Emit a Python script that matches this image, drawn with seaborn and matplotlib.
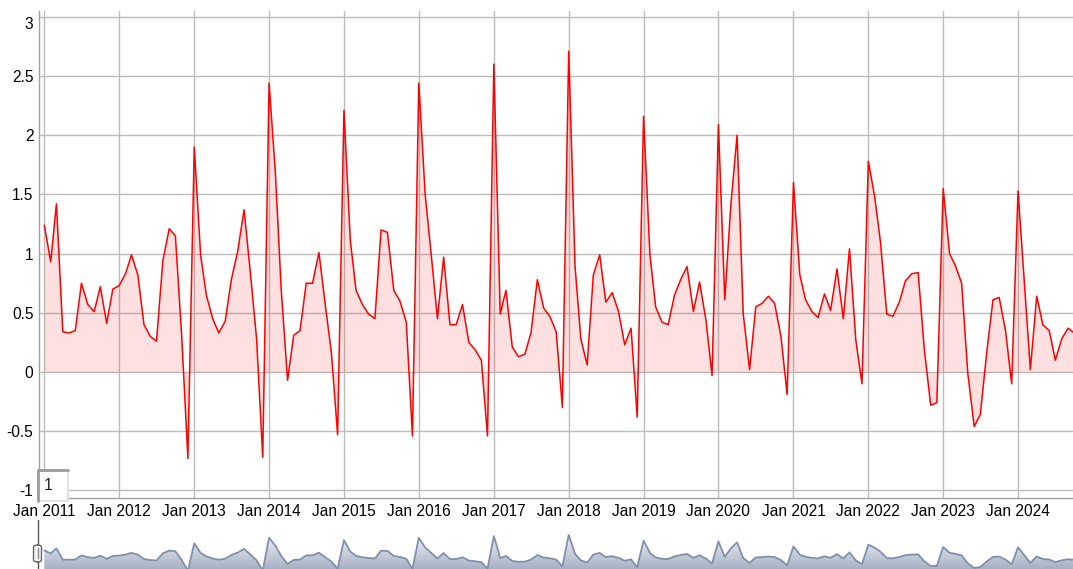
import numpy as np
import pandas as pd
import seaborn as sns
import matplotlib.pyplot as plt
import matplotlib.dates as mdates
from matplotlib.ticker import FuncFormatter, MultipleLocator
from matplotlib.colors import LinearSegmentedColormap
from matplotlib.patches import FancyBboxPatch, Rectangle
from matplotlib.lines import Line2D

# monthly series, Jan 2011 .. Oct 2024
start_month = "2011-01-01"
values = [
    1.24, 0.93, 1.42, 0.34, 0.33, 0.35, 0.75, 0.57, 0.51, 0.72, 0.41, 0.70,   # 2011
    0.73, 0.83, 0.99, 0.82, 0.40, 0.30, 0.26, 0.94, 1.21, 1.15, 0.30, -0.73,  # 2012
    1.90, 0.99, 0.65, 0.45, 0.33, 0.43, 0.78, 1.02, 1.37, 0.85, 0.28, -0.72,  # 2013
    2.44, 1.67, 0.70, -0.07, 0.31, 0.35, 0.75, 0.75, 1.01, 0.58, 0.16, -0.53, # 2014
    2.21, 1.11, 0.69, 0.57, 0.49, 0.45, 1.20, 1.18, 0.69, 0.60, 0.42, -0.54,  # 2015
    2.44, 1.50, 1.00, 0.45, 0.97, 0.40, 0.40, 0.57, 0.25, 0.19, 0.10, -0.54,  # 2016
    2.60, 0.49, 0.69, 0.21, 0.13, 0.15, 0.33, 0.78, 0.54, 0.47, 0.34, -0.30,  # 2017
    2.71, 0.89, 0.28, 0.06, 0.82, 0.99, 0.59, 0.67, 0.51, 0.23, 0.37, -0.38,  # 2018
    2.16, 0.99, 0.55, 0.42, 0.40, 0.65, 0.78, 0.89, 0.51, 0.76, 0.44, -0.03,  # 2019
    2.09, 0.61, 1.40, 2.00, 0.49, 0.02, 0.55, 0.58, 0.64, 0.58, 0.30, -0.19,  # 2020
    1.60, 0.82, 0.61, 0.51, 0.46, 0.66, 0.52, 0.87, 0.45, 1.04, 0.27, -0.10,  # 2021
    1.78, 1.48, 1.10, 0.49, 0.47, 0.59, 0.77, 0.83, 0.84, 0.19, -0.28, -0.26, # 2022
    1.55, 1.00, 0.90, 0.75, -0.01, -0.46, -0.36, 0.16, 0.61, 0.63, 0.35, -0.10, # 2023
    1.53, 0.75, 0.02, 0.64, 0.40, 0.35, 0.10, 0.28, 0.37, 0.33,               # 2024
]
roll_period = "1"

months = pd.date_range(start_month, periods=len(values), freq="MS")
df = pd.DataFrame({"month": months, "value": values})

sns.set_style("white")
plt.rcParams["font.family"] = ["Liberation Sans", "DejaVu Sans"]
plt.rcParams["axes.unicode_minus"] = False

W, H = 1073, 569
fig = plt.figure(figsize=(W / 100, H / 100), dpi=100)
fig.patch.set_facecolor("white")

x0, x1 = pd.Timestamp("2010-12-06"), pd.Timestamp("2024-09-25")

# main chart
ax = fig.add_axes([39 / W, (H - 498) / H, (W - 39) / W, 487 / H])
ax.fill_between(df["month"], 0, df["value"], color="#ff0000", alpha=0.12, lw=0)
sns.lineplot(data=df, x="month", y="value", ax=ax, color="#ff0000", lw=1.1)

ax.set_xlim(x0, x1)
ax.set_ylim(-1.064, 3.049)
ax.yaxis.set_major_locator(MultipleLocator(0.5))
ax.yaxis.set_major_formatter(FuncFormatter(lambda v, p: "%g" % v))
ax.xaxis.set_major_locator(mdates.YearLocator())
ax.xaxis.set_major_formatter(mdates.DateFormatter("%b %Y"))
ax.set_xlabel("")
ax.set_ylabel("")
ax.set_axisbelow(True)
ax.grid(True, color="#bcbcbc", lw=1)
for s in ["top", "right"]:
    ax.spines[s].set_visible(False)
for s in ["left", "bottom"]:
    ax.spines[s].set_color("#a0a0a0")
    ax.spines[s].set_linewidth(1)
ax.tick_params(axis="both", length=0, labelsize=11.2, colors="black")
ax.tick_params(axis="y", pad=4)
ax.tick_params(axis="x", pad=4)
fig.canvas.draw()
for lab in ax.get_yticklabels():
    if lab.get_text() == "3":
        lab.set_va("top")

# roll period box
bx, by, bw, bh = 38 / W, (H - 501) / H, 30 / W, 31 / H
fig.add_artist(Rectangle((bx, by), bw, bh, transform=fig.transFigure,
                         facecolor="white", edgecolor="none", zorder=5))
fig.add_artist(Line2D([bx, bx + bw], [by, by], transform=fig.transFigure, color="#e2e2e2", lw=1.5, zorder=6))
fig.add_artist(Line2D([bx + bw, bx + bw], [by, by + bh], transform=fig.transFigure, color="#e2e2e2", lw=1.5, zorder=6))
fig.add_artist(Line2D([bx, bx + bw], [by + bh, by + bh], transform=fig.transFigure, color="#9a9a9a", lw=2, zorder=6))
fig.add_artist(Line2D([bx, bx], [by, by + bh], transform=fig.transFigure, color="#9a9a9a", lw=2, zorder=6))
fig.text(bx + 6 / W, by + bh / 2, roll_period, fontsize=11.5, va="center", ha="left", zorder=7)

# range selector mini plot
nav = fig.add_axes([39 / W, 0, (W - 39) / W, 41 / H])
nav.set_xlim(x0, x1)
ny0, ny1 = -0.56, 3.38
nav.set_ylim(ny0, ny1)
grad = LinearSegmentedColormap.from_list("nav", ["#A7B1C4", "#ffffff"])
img = nav.imshow(np.linspace(0, 1, 100).reshape(-1, 1), cmap=grad, origin="lower", aspect="auto",
                 extent=[mdates.date2num(x0), mdates.date2num(x1), ny0, ny1], zorder=1)
poly = nav.fill_between(df["month"], ny0 - 1, df["value"], facecolor="none", lw=0)
img.set_clip_path(poly.get_paths()[0], transform=nav.transData)
sns.lineplot(data=df, x="month", y="value", ax=nav, color="#808FAB", lw=1.3, zorder=2)
nav.set_xlim(x0, x1)
nav.set_ylim(ny0, ny1)
nav.axis("off")

# left handle of the range selector
fig.add_artist(Line2D([37.5 / W, 37.5 / W], [0, (H - 520) / H], transform=fig.transFigure, color="#555555", lw=1, zorder=8))
fig.add_artist(FancyBboxPatch((33.5 / W, (H - 562) / H), 8 / W, 17 / H, transform=fig.transFigure,
                              boxstyle="round,pad=0,rounding_size=0.004", facecolor="#f4f4f4",
                              edgecolor="#666666", lw=1, zorder=9))
fig.add_artist(Line2D([37.5 / W, 37.5 / W], [(H - 558) / H, (H - 548) / H], transform=fig.transFigure,
                      color="#888888", lw=1, zorder=10))

plt.savefig("out.png", dpi=100)
